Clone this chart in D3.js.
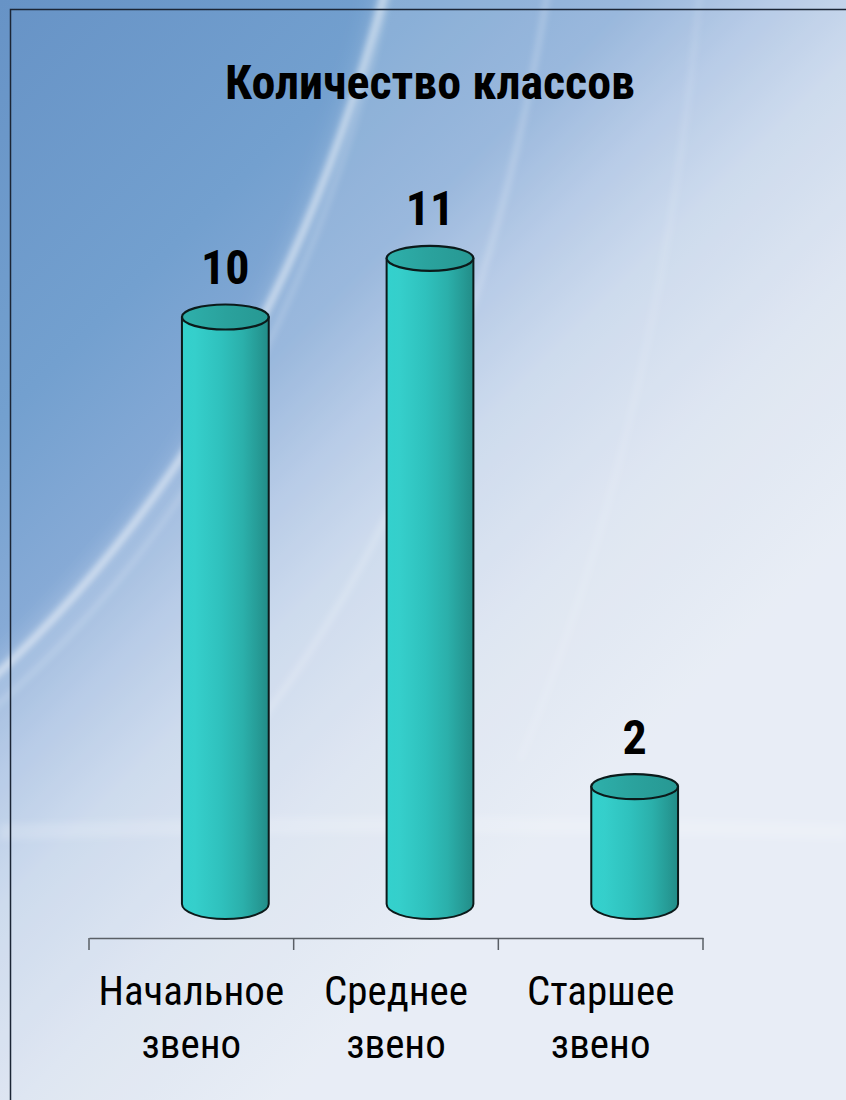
<!DOCTYPE html>
<html>
<head>
<meta charset="utf-8">
<script src="https://cdn.jsdelivr.net/npm/d3@7/dist/d3.min.js"></script>
<style>
  html, body { margin: 0; padding: 0; }
  body { width: 846px; height: 1100px; overflow: hidden; }
  svg { display: block; }
</style>
</head>
<body>
<svg id="chart" width="846" height="1100"></svg>
<script>
// Chart data
const title = "Количество классов";
const categories = ["Начальное звено", "Среднее звено", "Старшее звено"];
const values = [10, 11, 2];

const W = 846, H = 1100;
const svg = d3.select("#chart");
const defs = svg.append("defs");

// Background: slide-style blue wash fading to pale grey-blue
const bg = defs.append("linearGradient").attr("id", "bgGrad")
  .attr("gradientUnits", "userSpaceOnUse")
  .attr("x1", 0).attr("y1", 0).attr("x2", 700).attr("y2", 700);
[[0, "#6793c6"], [0.3, "#73a0cf"], [0.45, "#86aad6"], [0.55, "#a9c1e2"],
 [0.65, "#c4d4ea"], [0.8, "#d8e1ef"], [1, "#e4eaf4"]].forEach(([o, c]) =>
  bg.append("stop").attr("offset", o).attr("stop-color", c));

const blur = defs.append("filter").attr("id", "soft")
  .attr("x", "-20%").attr("y", "-20%").attr("width", "140%").attr("height", "140%");
blur.append("feGaussianBlur").attr("stdDeviation", 3);

const haze = defs.append("filter").attr("id", "haze")
  .attr("x", "-10%").attr("y", "-10%").attr("width", "120%").attr("height", "120%");
haze.append("feGaussianBlur").attr("stdDeviation", 10);

svg.append("rect").attr("width", W).attr("height", H).attr("fill", "url(#bgGrad)");

// Paler region beyond the main sweep
svg.append("path")
  .attr("d", "M -40,700 Q 270,430 385,-40 L 900,-40 L 900,1140 L -40,1140 Z")
  .attr("fill", "#ffffff").attr("fill-opacity", 0.16)
  .attr("filter", "url(#haze)");

// Light swooshes across the background
const swooshes = [
  { d: "M -20,690 Q 270,430 385,-10", w: 7, o: 0.55 },
  { d: "M -20,720 Q 280,470 390,-10", w: 3, o: 0.3 },
  { d: "M 230,760 Q 470,470 548,-10", w: 5, o: 0.25 },
  { d: "M 520,760 Q 660,420 700,-10", w: 4, o: 0.16 },
  { d: "M 0,832 Q 420,818 846,832", w: 16, o: 0.16 }
];
svg.append("g").attr("filter", "url(#soft)")
  .selectAll("path").data(swooshes).join("path")
  .attr("d", d => d.d).attr("fill", "none")
  .attr("stroke", "#ffffff").attr("stroke-width", d => d.w)
  .attr("stroke-opacity", d => d.o);

// Chart frame
svg.append("path")
  .attr("d", `M 10.5,${H} L 10.5,9.5 L ${W},9.5`)
  .attr("fill", "none").attr("stroke", "#1b2535").attr("stroke-width", 1.5);

// Title
const condensed = "'Liberation Sans Narrow', 'Arial Narrow', 'Roboto Condensed', sans-serif";
svg.append("text")
  .attr("x", 430).attr("y", 99)
  .attr("text-anchor", "middle")
  .attr("font-family", condensed)
  .attr("font-weight", "bold")
  .attr("font-size", 48)
  .attr("fill", "#000")
  .text(title);

// Scales
const x = d3.scaleBand().domain(categories).range([89, 703]).padding(0);
const y = d3.scaleLinear().domain([0, 12]).range([904, 904 - 12 * 58.7]);

const barW = x.bandwidth() * 0.424;
const depthShift = 34;               // perspective offset of the 3D columns
const rx = barW / 2, ryTop = 12.5, ryBottom = 15;

// Column shading
const side = defs.append("linearGradient").attr("id", "sideGrad")
  .attr("x1", 0).attr("y1", 0).attr("x2", 1).attr("y2", 0);
[[0, "#33d1cd"], [0.15, "#35cfcb"], [0.45, "#2fc1bd"], [0.7, "#2bb0ab"],
 [0.88, "#269b96"], [1, "#228c87"]].forEach(([o, c]) =>
  side.append("stop").attr("offset", o).attr("stop-color", c));

const topGrad = defs.append("linearGradient").attr("id", "topGrad")
  .attr("x1", 0).attr("y1", 0).attr("x2", 1).attr("y2", 0);
[[0, "#2eb0ab"], [0.5, "#2aa29d"], [1, "#279893"]].forEach(([o, c]) =>
  topGrad.append("stop").attr("offset", o).attr("stop-color", c));

const data = categories.map((c, i) => ({ c, v: values[i] }));
const cx = d => x(d.c) + x.bandwidth() / 2 + depthShift;

const bars = svg.append("g").selectAll("g").data(data).join("g");

bars.append("path")
  .attr("d", d => {
    const l = cx(d) - rx, r = cx(d) + rx, t = y(d.v), b = y(0);
    return `M ${l},${t} L ${l},${b} A ${rx},${ryBottom} 0 0 0 ${r},${b} L ${r},${t} Z`;
  })
  .attr("fill", "url(#sideGrad)")
  .attr("stroke", "#0b1a1a").attr("stroke-width", 2)
  .attr("stroke-linejoin", "round");

bars.append("ellipse")
  .attr("cx", cx).attr("cy", d => y(d.v))
  .attr("rx", rx).attr("ry", ryTop)
  .attr("fill", "url(#topGrad)")
  .attr("stroke", "#0b1a1a").attr("stroke-width", 2.2);

// Value labels
bars.append("text")
  .attr("x", cx).attr("y", d => y(d.v) - 33)
  .attr("text-anchor", "middle")
  .attr("font-family", condensed)
  .attr("font-weight", "bold")
  .attr("font-size", 48)
  .attr("fill", "#000")
  .text(d => d.v);

// Category axis
const axisY = 938;
const axisG = svg.append("g").attr("transform", `translate(0,${axisY})`)
  .call(d3.axisBottom(x).tickSize(0).tickFormat(""));
axisG.select(".domain").attr("stroke", "#5a5f66").attr("stroke-width", 1.5);

const bounds = d3.range(categories.length + 1).map(i => x.range()[0] + i * x.step());
axisG.selectAll("line.bound").data(bounds).join("line")
  .attr("class", "bound")
  .attr("x1", d => d).attr("x2", d => d)
  .attr("y1", 0).attr("y2", 12)
  .attr("stroke", "#5a5f66").attr("stroke-width", 1.5);

const labels = svg.append("g").selectAll("text").data(categories).join("text")
  .attr("text-anchor", "middle")
  .attr("font-family", condensed)
  .attr("font-size", 41)
  .attr("fill", "#000");
labels.each(function (c) {
  const t = d3.select(this);
  c.split(" ").forEach((word, i) => {
    t.append("tspan")
      .attr("x", x(c) + x.bandwidth() / 2)
      .attr("y", 1005 + i * 53)
      .text(word);
  });
});
</script>
</body>
</html>
